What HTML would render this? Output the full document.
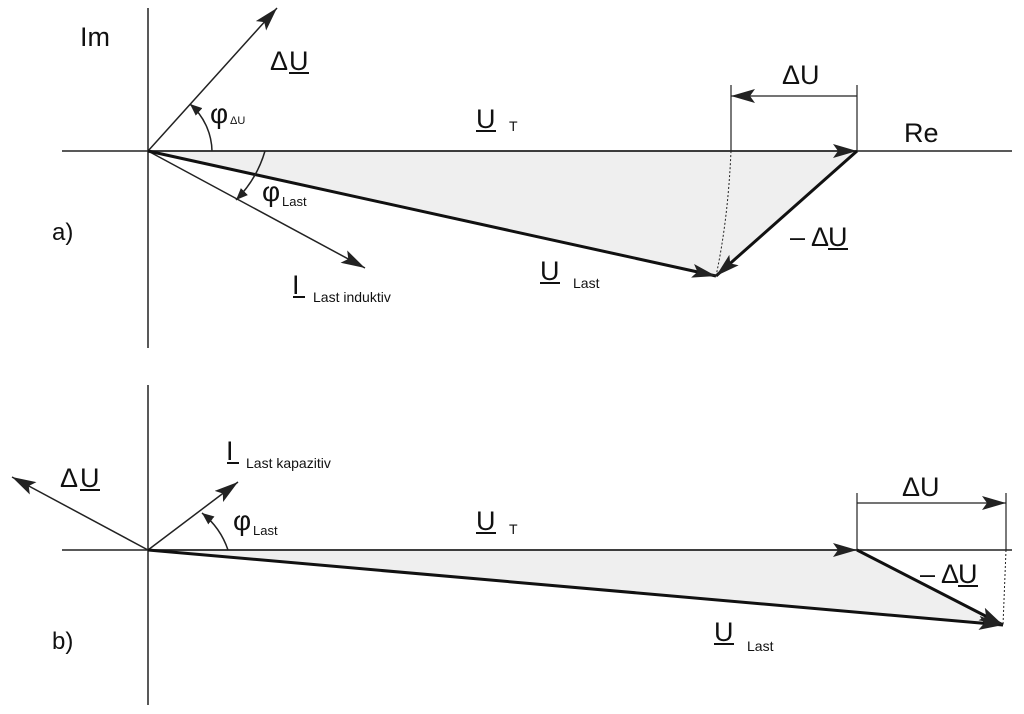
<!DOCTYPE html>
<html><head><meta charset="utf-8"><style>
html,body{margin:0;padding:0;background:#fff}
svg{display:block}
text{font-family:"Liberation Sans",sans-serif;fill:#111}
</style></head><body>
<svg width="1024" height="714" viewBox="0 0 1024 714" xmlns="http://www.w3.org/2000/svg">
<defs>
<marker id="ah" markerUnits="userSpaceOnUse" markerWidth="26" markerHeight="14" refX="24" refY="7" orient="auto"><path d="M0,0 L24,7 L0,14 L5,7 Z" fill="#222"/></marker>
<marker id="as" markerUnits="userSpaceOnUse" markerWidth="14" markerHeight="10" refX="12" refY="5" orient="auto"><path d="M0,0 L12,5 L0,10 Z" fill="#222"/></marker>
</defs>
<!-- a) -->
<polygon points="148,151 857,151 716,276" fill="#efefef"/>
<line x1="148" y1="8" x2="148" y2="348" stroke="#222" stroke-width="1.5"/>
<line x1="62" y1="151" x2="1012" y2="151" stroke="#222" stroke-width="1.5"/>
<line x1="148" y1="151" x2="857" y2="151" stroke="#222" stroke-width="1.5" marker-end="url(#ah)"/>
<line x1="148" y1="151" x2="277" y2="8" stroke="#222" stroke-width="1.5" marker-end="url(#ah)"/>
<line x1="148" y1="151" x2="365" y2="268" stroke="#222" stroke-width="1.5" marker-end="url(#ah)"/>
<line x1="148" y1="151" x2="716" y2="276" stroke="#111" stroke-width="3" marker-end="url(#ah)"/>
<line x1="857" y1="151" x2="716" y2="276" stroke="#111" stroke-width="3" marker-end="url(#ah)"/>
<path d="M731,151 Q728,220 716,276" fill="none" stroke="#222" stroke-width="1" stroke-dasharray="2,2"/>
<line x1="731" y1="85" x2="731" y2="151" stroke="#222" stroke-width="1.2"/>
<line x1="857" y1="85" x2="857" y2="151" stroke="#222" stroke-width="1.2"/>
<line x1="857" y1="96" x2="731" y2="96" stroke="#222" stroke-width="1.2" marker-end="url(#ah)"/>
<path d="M212,151 A64,64 0 0 0 190,104" fill="none" stroke="#222" stroke-width="1.5" marker-end="url(#as)"/>
<path d="M265,151 A115,115 0 0 1 236,200" fill="none" stroke="#222" stroke-width="1.5" marker-end="url(#as)"/>
<text x="80" y="46" font-size="27">Im</text>
<text x="904" y="142" font-size="27">Re</text>
<text x="782" y="84" font-size="27">ΔU</text>
<text x="270" y="70" font-size="27">Δ</text><text x="289" y="70" font-size="27">U</text><line x1="289" y1="73" x2="309" y2="73" stroke="#111" stroke-width="2"/>
<text x="210" y="123" font-size="28">φ</text><text x="230" y="124" font-size="11">ΔU</text>
<text x="262" y="201" font-size="28">φ</text><text x="282" y="206" font-size="13">Last</text>
<text x="476" y="128" font-size="27">U</text><line x1="476" y1="131" x2="496" y2="131" stroke="#111" stroke-width="2"/><text x="509" y="131" font-size="14">T</text>
<text x="540" y="280" font-size="27">U</text><line x1="540" y1="283" x2="560" y2="283" stroke="#111" stroke-width="2"/><text x="573" y="288" font-size="14">Last</text>
<text x="292" y="294" font-size="27">I</text><line x1="293" y1="297" x2="305" y2="297" stroke="#111" stroke-width="2"/><text x="313" y="302" font-size="14">Last induktiv</text>
<text x="790" y="246" font-size="27">– Δ</text><text x="828" y="246" font-size="27">U</text><line x1="828" y1="249" x2="848" y2="249" stroke="#111" stroke-width="2"/>
<text x="52" y="240" font-size="24">a)</text>
<!-- b) -->
<polygon points="148,550 857,550 1003,625" fill="#efefef"/>
<line x1="148" y1="385" x2="148" y2="705" stroke="#222" stroke-width="1.5"/>
<line x1="62" y1="550" x2="1012" y2="550" stroke="#222" stroke-width="1.5"/>
<line x1="148" y1="550" x2="857" y2="550" stroke="#222" stroke-width="1.5" marker-end="url(#ah)"/>
<line x1="148" y1="550" x2="12" y2="477" stroke="#222" stroke-width="1.5" marker-end="url(#ah)"/>
<line x1="148" y1="550" x2="238" y2="482" stroke="#222" stroke-width="1.5" marker-end="url(#ah)"/>
<line x1="148" y1="550" x2="1003" y2="625" stroke="#111" stroke-width="3" marker-end="url(#ah)"/>
<line x1="857" y1="550" x2="1003" y2="625" stroke="#111" stroke-width="3" marker-end="url(#ah)"/>
<line x1="1006" y1="550" x2="1003" y2="625" stroke="#222" stroke-width="1" stroke-dasharray="2,2"/>
<line x1="857" y1="493" x2="857" y2="550" stroke="#222" stroke-width="1.2"/>
<line x1="1006" y1="493" x2="1006" y2="550" stroke="#222" stroke-width="1.2"/>
<line x1="857" y1="503" x2="1006" y2="503" stroke="#222" stroke-width="1.2" marker-end="url(#ah)"/>
<path d="M228,550 A80,80 0 0 0 202,513" fill="none" stroke="#222" stroke-width="1.5" marker-end="url(#as)"/>
<text x="902" y="496" font-size="27">ΔU</text>
<text x="60" y="487" font-size="27">Δ</text><text x="80" y="487" font-size="27">U</text><line x1="80" y1="490" x2="100" y2="490" stroke="#111" stroke-width="2"/>
<text x="226" y="460" font-size="27">I</text><line x1="227" y1="463" x2="239" y2="463" stroke="#111" stroke-width="2"/><text x="246" y="468" font-size="14">Last kapazitiv</text>
<text x="233" y="530" font-size="28">φ</text><text x="253" y="535" font-size="13">Last</text>
<text x="476" y="530" font-size="27">U</text><line x1="476" y1="533" x2="496" y2="533" stroke="#111" stroke-width="2"/><text x="509" y="534" font-size="14">T</text>
<text x="714" y="641" font-size="27">U</text><line x1="714" y1="644" x2="734" y2="644" stroke="#111" stroke-width="2"/><text x="747" y="651" font-size="14">Last</text>
<text x="920" y="583" font-size="27">– Δ</text><text x="958" y="583" font-size="27">U</text><line x1="958" y1="586" x2="978" y2="586" stroke="#111" stroke-width="2"/>
<text x="52" y="649" font-size="24">b)</text>
</svg>
</body></html>
